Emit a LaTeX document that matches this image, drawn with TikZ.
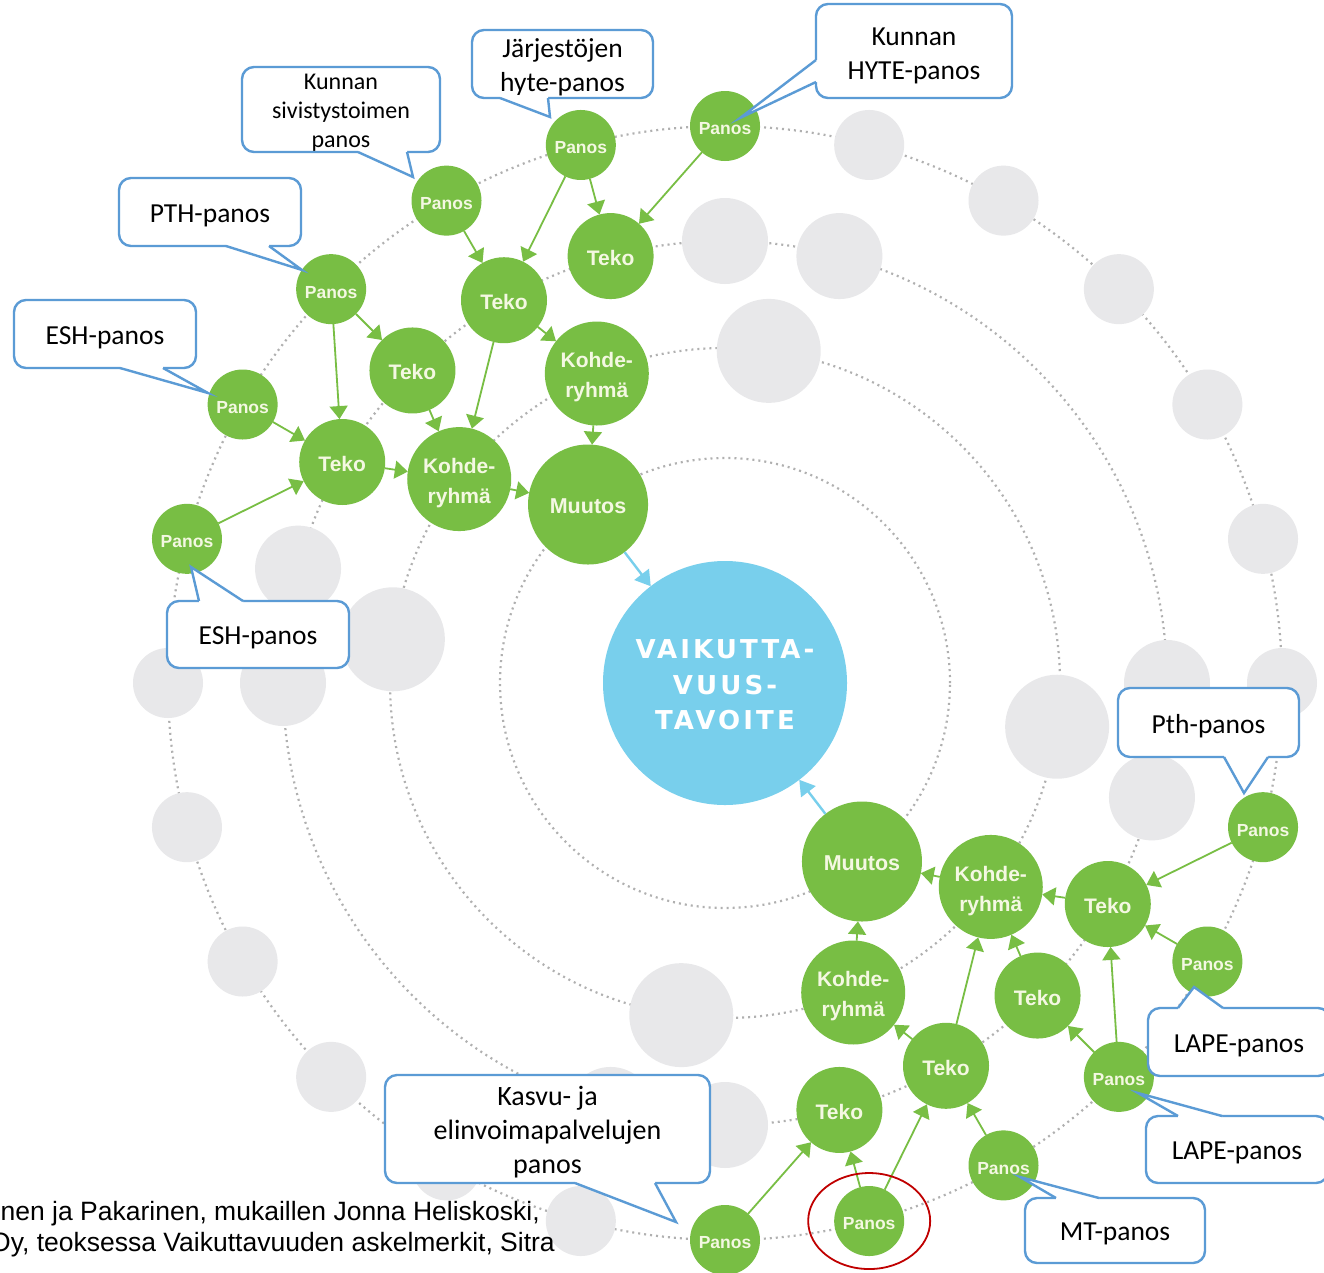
\documentclass[tikz,border=0pt]{standalone}
\usepackage{fontspec}
\setmainfont{Carlito}
\newfontfamily\nodefont{Liberation Sans}
\newfontfamily\goalfont[LetterSpace=12]{DejaVu Sans}
\newfontfamily\srcfont{Liberation Sans}
\usetikzlibrary{arrows.meta}
\definecolor{grn}{RGB}{120,190,68}
\definecolor{grntxt}{RGB}{244,248,226}
\definecolor{gry}{RGB}{232,232,234}
\definecolor{ringc}{RGB}{176,176,176}
\definecolor{goalc}{RGB}{120,207,236}
\definecolor{cbord}{RGB}{91,155,213}
\definecolor{redc}{RGB}{192,0,0}
\tikzset{
  ringline/.style={draw=ringc, line width=2.2pt, dash pattern=on 2pt off 4pt},
  gbase/.style={circle, fill=grn, inner sep=0pt, outer sep=0pt},
  gtext/.style={text=grntxt, inner sep=0pt, align=center},
  ptext/.style={gtext, yshift=-3pt, font={\nodefont\bfseries\fontsize{17.5}{20}\selectfont}},
  ttext/.style={gtext, yshift=-2pt, font={\nodefont\bfseries\fontsize{21}{24}\selectfont}},
  ktext/.style={gtext, yshift=-4pt, font={\nodefont\bfseries\fontsize{21}{30}\selectfont}},
  mtext/.style={gtext, yshift=-2pt, font={\nodefont\bfseries\fontsize{21.5}{24}\selectfont}},
  panos/.style={gbase, minimum size=70pt},
  teko/.style={gbase, minimum size=86pt},
  kohde/.style={gbase, minimum size=104pt},
  muutos/.style={gbase, minimum size=120pt},
  greyp/.style={circle, fill=gry, inner sep=0pt, minimum size=70pt},
  greyt/.style={circle, fill=gry, inner sep=0pt, minimum size=86pt},
  greyk/.style={circle, fill=gry, inner sep=0pt, minimum size=104pt},
  goalnode/.style={circle, fill=goalc, minimum size=244pt, inner sep=0pt, outer sep=0pt},
  goaltext/.style={text=white, inner sep=0pt, align=center, yshift=-2pt, font={\goalfont\bfseries\fontsize{26}{35.5}\selectfont}},
  flow/.style={draw=grn, line width=1.8pt, -{Triangle[length=13pt,width=18pt]}},
  goalflow/.style={draw=goalc, line width=2.4pt, -{Triangle[length=15pt,width=18pt]}},
  callbox/.style={draw=cbord, line width=2.4pt, fill=white, rounded corners=12pt, inner sep=0pt},
  ctext/.style={text=black, inner sep=0pt, align=center, yshift=-3.5pt, font={\fontsize{27.5}{34}\selectfont}},
  callptr/.style={draw=cbord, line width=2.4pt, line join=miter},
  srctxt/.style={anchor=base east, inner sep=0pt, font={\srcfont\fontsize{26.5}{30}\selectfont}},
}
\begin{document}
\begin{tikzpicture}[x=1pt,y=1pt]
\useasboundingbox (0,0) rectangle (1324,-1272);
\fill[white] (0,0) rectangle (1324,-1272);
\begin{scope}[shift={(725,-683)}]
  \foreach \r in {225,335,442,557} \draw[ringline] (0,0) circle (\r);
  % grey (empty) positions
  \foreach \a [count=\i] in {0,15,30,45,60,75,180,195,210,225,240,255}
    \node[greyp] (gp\i) at (\a:557) {};
  \foreach \a [count=\i] in {75,90,165,180,-15,0,255,270}
    \node[greyt] (gt\i) at (\a:442) {};
  \foreach \a [count=\i] in {82.5,172.5,-7.5,262.5}
    \node[greyk] (gk\i) at (\a:335) {};
  % upper-left chain
  \node[panos, label={[ptext]center:Panos}] (p1) at (90:557) {};
  \node[panos, label={[ptext]center:Panos}] (p2) at (105:557) {};
  \node[panos, label={[ptext]center:Panos}] (p3) at (120:557) {};
  \node[panos, label={[ptext]center:Panos}] (p4) at (135:557) {};
  \node[panos, label={[ptext]center:Panos}] (p5) at (150:557) {};
  \node[panos, label={[ptext]center:Panos}] (p6) at (165:557) {};
  \node[teko, label={[ttext]center:Teko}] (t1) at (105:442) {};
  \node[teko, label={[ttext]center:Teko}] (t2) at (120:442) {};
  \node[teko, label={[ttext]center:Teko}] (t3) at (135:442) {};
  \node[teko, label={[ttext]center:Teko}] (t4) at (150:442) {};
  \node[kohde, label={[ktext]center:Kohde-\\ryhmä}] (k1) at (112.5:335) {};
  \node[kohde, label={[ktext]center:Kohde-\\ryhmä}] (k2) at (142.5:335) {};
  \node[muutos, label={[mtext]center:Muutos}] (m1) at (127.5:225) {};
  % lower-right chain
  \node[panos, label={[ptext]center:Panos}] (q1) at (-90:557) {};
  \node[panos, label={[ptext]center:Panos}] (q2) at (-75:557) {};
  \node[panos, label={[ptext]center:Panos}] (q3) at (-60:557) {};
  \node[panos, label={[ptext]center:Panos}] (q4) at (-45:557) {};
  \node[panos, label={[ptext]center:Panos}] (q5) at (-30:557) {};
  \node[panos, label={[ptext]center:Panos}] (q6) at (-15:557) {};
  \node[teko, label={[ttext]center:Teko}] (u1) at (-75:442) {};
  \node[teko, label={[ttext]center:Teko}] (u2) at (-60:442) {};
  \node[teko, label={[ttext]center:Teko}] (u3) at (-45:442) {};
  \node[teko, label={[ttext]center:Teko}] (u4) at (-30:442) {};
  \node[kohde, label={[ktext]center:Kohde-\\ryhmä}] (l1) at (-67.5:335) {};
  \node[kohde, label={[ktext]center:Kohde-\\ryhmä}] (l2) at (-37.5:335) {};
  \node[muutos, label={[mtext]center:Muutos}] (n1) at (-52.5:225) {};
  \node[goalnode, label={[goaltext]center:VAIKUTTA-\\VUUS-\\TAVOITE}] (goal) at (0,0) {};
\end{scope}
% connectors upper-left
\draw[flow] (p1) -- (t1);
\draw[flow] (p2) -- (t1);
\draw[flow] (p2) -- (t2);
\draw[flow] (p3) -- (t2);
\draw[flow] (p4) -- (t3);
\draw[flow] (p4) -- (t4);
\draw[flow] (p5) -- (t4);
\draw[flow] (p6) -- (t4);
\draw[flow] (t2) -- (k1);
\draw[flow] (t2) -- (k2);
\draw[flow] (t3) -- (k2);
\draw[flow] (t4) -- (k2);
\draw[flow] (k1) -- (m1);
\draw[flow] (k2) -- (m1);
\draw[goalflow] (m1) -- (goal);
% connectors lower-right
\draw[flow] (q1) -- (u1);
\draw[flow] (q2) -- (u1);
\draw[flow] (q2) -- (u2);
\draw[flow] (q3) -- (u2);
\draw[flow] (q4) -- (u3);
\draw[flow] (q4) -- (u4);
\draw[flow] (q5) -- (u4);
\draw[flow] (q6) -- (u4);
\draw[flow] (u2) -- (l1);
\draw[flow] (u2) -- (l2);
\draw[flow] (u3) -- (l2);
\draw[flow] (u4) -- (l2);
\draw[flow] (l1) -- (n1);
\draw[flow] (l2) -- (n1);
\draw[goalflow] (n1) -- (goal);
% source text
\node[srctxt] (src1) at (540,-1220) {nen ja Pakarinen, mukaillen Jonna Heliskoski,};
\node[srctxt] (src2) at (555,-1251) {Oy, teoksessa Vaikuttavuuden askelmerkit, Sitra};
% callouts
\node[callbox, minimum width=198pt, minimum height=85pt, label={[ctext, font={\fontsize{24}{29}\selectfont}]center:Kunnan\\sivistystoimen\\panos}] (c1) at (341,-109.5) {};
\fill[white] (358,-149) -- (358,-152) -- (413,-177) -- (407,-152) -- (407,-149) -- cycle;
\draw[callptr] (358,-152) -- (413,-177) -- (407,-152);
\node[callbox, minimum width=181pt, minimum height=68pt, label={[ctext]center:Järjestöjen\\hyte-panos}] (c2) at (562.5,-64) {};
\fill[white] (500,-95) -- (500,-98) -- (550,-117) -- (548,-98) -- (548,-95) -- cycle;
\draw[callptr] (500,-98) -- (550,-117) -- (548,-98);
\node[callbox, minimum width=196pt, minimum height=94pt, label={[ctext, yshift=-1pt]center:Kunnan\\HYTE-panos}] (c3) at (914,-51) {};
\fill[white] (819,-60) -- (816,-60) -- (740,-118) -- (816,-82) -- (819,-82) -- cycle;
\draw[callptr] (816,-60) -- (740,-118) -- (816,-82);
\node[callbox, minimum width=182pt, minimum height=68pt, label={[ctext]center:PTH-panos}] (c4) at (210,-212) {};
\fill[white] (226,-243) -- (226,-246) -- (302,-270) -- (269,-246) -- (269,-243) -- cycle;
\draw[callptr] (226,-246) -- (302,-270) -- (269,-246);
\node[callbox, minimum width=182pt, minimum height=68pt, label={[ctext]center:ESH-panos}] (c5) at (105,-334) {};
\fill[white] (120,-365) -- (120,-368) -- (208,-393) -- (163,-368) -- (163,-365) -- cycle;
\draw[callptr] (120,-368) -- (208,-393) -- (163,-368);
\node[callbox, minimum width=182pt, minimum height=67pt, label={[ctext]center:ESH-panos}] (c6) at (258,-634.5) {};
\fill[white] (199,-604) -- (199,-601) -- (191,-567) -- (243,-601) -- (243,-604) -- cycle;
\draw[callptr] (199,-601) -- (191,-567) -- (243,-601);
\node[callbox, minimum width=181pt, minimum height=69pt, label={[ctext]center:Pth-panos}] (c7) at (1208.5,-722.5) {};
\fill[white] (1224,-754) -- (1224,-757) -- (1244,-793) -- (1268,-757) -- (1268,-754) -- cycle;
\draw[callptr] (1224,-757) -- (1244,-793) -- (1268,-757);
\node[callbox, minimum width=182pt, minimum height=68pt, label={[ctext]center:LAPE-panos}] (c8) at (1239,-1042) {};
\fill[white] (1178,-1011) -- (1178,-1008) -- (1194,-987) -- (1223,-1008) -- (1223,-1011) -- cycle;
\draw[callptr] (1178,-1008) -- (1194,-987) -- (1223,-1008);
\node[callbox, minimum width=182pt, minimum height=67pt, label={[ctext]center:LAPE-panos}] (c9) at (1237,-1149.5) {};
\fill[white] (1178,-1119) -- (1178,-1116) -- (1138,-1093) -- (1222,-1116) -- (1222,-1119) -- cycle;
\draw[callptr] (1178,-1116) -- (1138,-1093) -- (1222,-1116);
\node[callbox, minimum width=180pt, minimum height=65pt, label={[ctext]center:MT-panos}] (c10) at (1115,-1230.5) {};
\fill[white] (1056,-1201) -- (1056,-1198) -- (1020,-1177) -- (1099,-1198) -- (1099,-1201) -- cycle;
\draw[callptr] (1056,-1198) -- (1020,-1177) -- (1099,-1198);
\node[callbox, minimum width=325pt, minimum height=108pt, label={[ctext, font={\fontsize{28}{34}\selectfont}]center:Kasvu- ja\\elinvoimapalvelujen\\panos}] (c11) at (547.5,-1129) {};
\fill[white] (575,-1180) -- (575,-1183) -- (676,-1222) -- (655,-1183) -- (655,-1180) -- cycle;
\draw[callptr] (575,-1183) -- (676,-1222) -- (655,-1183);
% highlight
\draw[redc, line width=1.8pt] (q2.center) ellipse [x radius=61, y radius=48];
\end{tikzpicture}
\end{document}
